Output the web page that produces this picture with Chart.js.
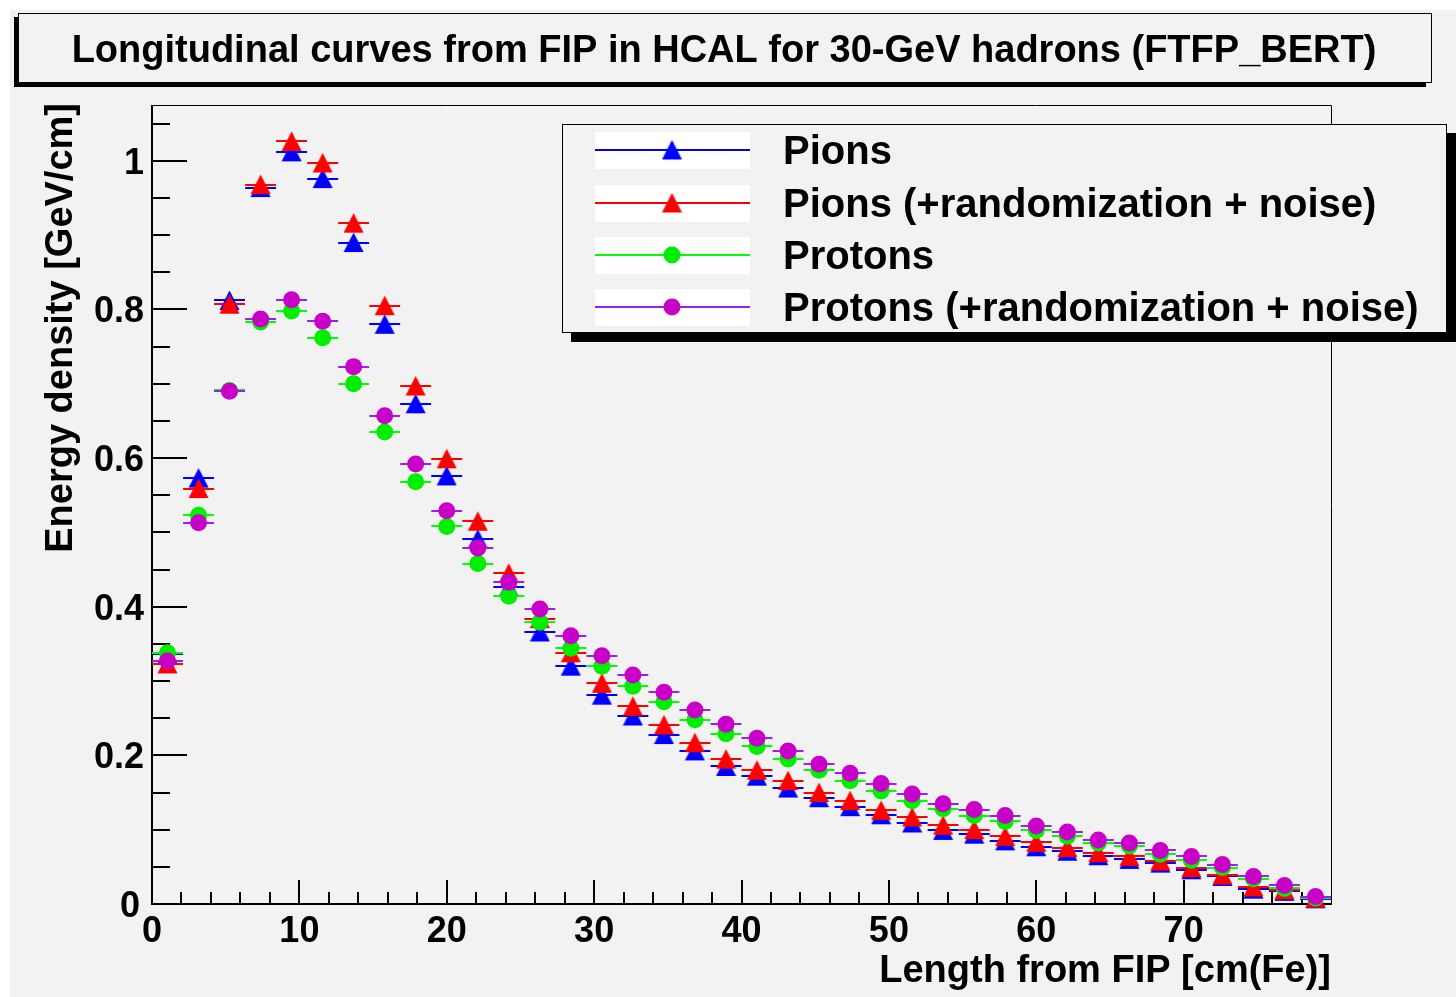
<!DOCTYPE html>
<html><head><meta charset="utf-8">
<script src="https://cdn.jsdelivr.net/npm/chart.js@4.4.1/dist/chart.umd.min.js"></script>
<style>html,body{margin:0;padding:0;background:#fff;overflow:hidden}#wrap{position:absolute;left:0;top:0;width:1456px;height:997px}</style>
</head><body><div id="wrap"><canvas id="c" width="1456" height="997"></canvas></div>
<script>
const titleText = "Longitudinal curves from FIP in HCAL for 30-GeV hadrons (FTFP_BERT)";
const xTitle = "Length from FIP [cm(Fe)]";
const yTitle = "Energy density [GeV/cm]";
const seriesLabels = ["Pions", "Pions (+randomization + noise)", "Protons", "Protons (+randomization + noise)"];

const binCenters = [1.05, 3.16, 5.26, 7.37, 9.47, 11.58, 13.68, 15.79, 17.89, 20.00,
  22.11, 24.21, 26.32, 28.42, 30.53, 32.63, 34.74, 36.84, 38.95, 41.05,
  43.16, 45.26, 47.37, 49.47, 51.58, 53.68, 55.79, 57.89, 60.00, 62.11,
  64.21, 66.32, 68.42, 70.53, 72.63, 74.74, 76.84, 78.95];
const binHalfWidth = 1.05;

const pions = [0.336, 0.573, 0.812, 0.964, 1.012, 0.976, 0.890, 0.780, 0.673, 0.576,
  0.491, 0.426, 0.366, 0.320, 0.281, 0.253, 0.228, 0.206, 0.185, 0.172,
  0.156, 0.143, 0.131, 0.120, 0.109, 0.099, 0.094, 0.085, 0.077, 0.071,
  0.065, 0.060, 0.055, 0.046, 0.037, 0.020, 0.017, 0.007];
const pionsRN = [0.323, 0.559, 0.807, 0.968, 1.026, 0.997, 0.916, 0.805, 0.697, 0.599,
  0.515, 0.445, 0.384, 0.338, 0.297, 0.266, 0.241, 0.217, 0.195, 0.180,
  0.166, 0.150, 0.139, 0.126, 0.117, 0.106, 0.100, 0.091, 0.083, 0.076,
  0.069, 0.064, 0.058, 0.049, 0.039, 0.023, 0.019, 0.008];
const protons = [0.338, 0.523, 0.691, 0.783, 0.798, 0.762, 0.700, 0.635, 0.568, 0.508,
  0.458, 0.414, 0.379, 0.344, 0.320, 0.293, 0.272, 0.248, 0.229, 0.212,
  0.195, 0.180, 0.166, 0.152, 0.139, 0.128, 0.119, 0.111, 0.099, 0.091,
  0.082, 0.078, 0.067, 0.059, 0.049, 0.034, 0.021, 0.008];
const protonsRN = [0.327, 0.513, 0.690, 0.787, 0.813, 0.784, 0.723, 0.657, 0.592, 0.529,
  0.479, 0.433, 0.397, 0.361, 0.334, 0.308, 0.285, 0.261, 0.242, 0.223,
  0.206, 0.188, 0.176, 0.162, 0.148, 0.135, 0.127, 0.119, 0.105, 0.097,
  0.086, 0.082, 0.072, 0.064, 0.053, 0.037, 0.025, 0.010];

const xTickValues = [0, 10, 20, 30, 40, 50, 60, 70];
const xTickLabels = ["0", "10", "20", "30", "40", "50", "60", "70"];
const yTickValues = [0, 0.2, 0.4, 0.6, 0.8, 1];
const yTickLabels = ["0", "0.2", "0.4", "0.6", "0.8", "1"];

const FONT = '"Liberation Sans", Arial, Helvetica, sans-serif';
const GRAY = '#f2f2f2';

function makeTriangle(color) {
  const c = document.createElement('canvas');
  c.width = 21; c.height = 21;
  const g = c.getContext('2d');
  g.fillStyle = color;
  g.beginPath();
  g.moveTo(10.5, 0.5); g.lineTo(20.5, 20); g.lineTo(0.5, 20); g.closePath();
  g.fill();
  return c;
}
const triBlue = makeTriangle('#0000ff');
const triRed = makeTriangle('#ff0000');

const styles = [
  {marker: triBlue, color: '#0000ff', bar: '#0000ff', circle: false},
  {marker: triRed, color: '#ff0000', bar: '#ff0000', circle: false},
  {marker: 'circle', color: '#00ee00', bar: '#00ff00', circle: true},
  {marker: 'circle', color: '#c800c8', bar: '#9a20f0', circle: true}
];
const seriesValues = [pions, pionsRN, protons, protonsRN];

const datasets = seriesValues.map((vals, i) => ({
  label: seriesLabels[i],
  data: binCenters.map((x, k) => ({x: x, y: vals[k]})),
  showLine: false,
  pointStyle: styles[i].marker,
  pointRadius: styles[i].circle ? 8.5 : 10,
  pointBackgroundColor: styles[i].color,
  pointBorderColor: styles[i].color,
  pointBorderWidth: 0,
  barColor: styles[i].bar,
  order: 4 - i,
  clip: false
}));

const rootPlugin = {
  id: 'rootStyle',
  beforeDraw(chart) {
    const ctx = chart.ctx;
    ctx.save();
    ctx.fillStyle = '#ffffff';
    ctx.fillRect(0, 0, chart.width, chart.height);
    ctx.fillStyle = GRAY;
    ctx.fillRect(10, 10, chart.width - 10, chart.height - 10);
    // title box with shadow (bottom-left)
    ctx.fillStyle = '#000';
    ctx.fillRect(14, 17, 4, 70);
    ctx.fillRect(14, 83, 1412, 4);
    ctx.fillStyle = GRAY;
    ctx.fillRect(18, 13, 1414, 70);
    ctx.strokeStyle = '#000'; ctx.lineWidth = 1;
    ctx.strokeRect(18.5, 13.5, 1413, 69);
    ctx.fillStyle = '#000';
    ctx.font = 'bold 38px ' + FONT;
    ctx.textAlign = 'center'; ctx.textBaseline = 'alphabetic';
    ctx.fillText(titleText, 724, 62);
    ctx.restore();
  },
  beforeDatasetsDraw(chart) {
    const ctx = chart.ctx;
    const xs = chart.scales.x, ys = chart.scales.y;
    const a = chart.chartArea;
    ctx.save();
    ctx.strokeStyle = '#000';
    // frame top/right
    ctx.lineWidth = 1;
    ctx.beginPath();
    ctx.moveTo(a.left, a.top + 0.5); ctx.lineTo(a.right + 0.5, a.top + 0.5);
    ctx.lineTo(a.right + 0.5, a.bottom);
    ctx.stroke();
    // axes
    ctx.lineWidth = 2;
    ctx.beginPath();
    ctx.moveTo(a.left, a.top); ctx.lineTo(a.left, a.bottom);
    ctx.lineTo(a.right + 1, a.bottom);
    ctx.stroke();
    // x ticks
    ctx.beginPath();
    for (let v = 0; v <= xs.max - 1; v += 2) {
      const px = Math.round(xs.getPixelForValue(v));
      const major = Math.abs(v % 10) < 1e-9;
      ctx.moveTo(px, a.bottom); ctx.lineTo(px, a.bottom - (major ? 24 : 12));
    }
    // y ticks
    for (let i = 0; i * 0.05 <= ys.max + 1e-9; i++) {
      const v = i * 0.05;
      const py = Math.round(ys.getPixelForValue(v));
      const major = i % 4 === 0;
      ctx.moveTo(a.left, py); ctx.lineTo(a.left + (major ? 35 : 18), py);
    }
    ctx.stroke();
    ctx.fillStyle = '#000';
    ctx.font = 'bold 36px ' + FONT;
    ctx.textAlign = 'center'; ctx.textBaseline = 'alphabetic';
    xTickValues.forEach((v, i) => {
      ctx.fillText(xTickLabels[i], xs.getPixelForValue(v), 942);
    });
    ctx.textAlign = 'right';
    yTickValues.forEach((v, i) => {
      const py = ys.getPixelForValue(v);
      ctx.fillText(yTickLabels[i], i === 0 ? 140 : 144, py + 13);
    });
    ctx.font = 'bold 38px ' + FONT;
    ctx.textAlign = 'right';
    ctx.fillText(xTitle, a.right, 982);
    ctx.save();
    ctx.translate(72, a.top - 2);
    ctx.rotate(-Math.PI / 2);
    ctx.textAlign = 'right';
    ctx.fillText(yTitle, 0, 0);
    ctx.restore();
    ctx.restore();
  },
  beforeDatasetDraw(chart, args) {
    const ds = chart.data.datasets[args.index];
    const xs = chart.scales.x, ys = chart.scales.y;
    const ctx = chart.ctx;
    ctx.save();
    ctx.strokeStyle = ds.barColor;
    ctx.lineWidth = 2;
    ctx.beginPath();
    ds.data.forEach(p => {
      const y = Math.round(ys.getPixelForValue(p.y));
      ctx.moveTo(xs.getPixelForValue(p.x - binHalfWidth), y);
      ctx.lineTo(xs.getPixelForValue(p.x + binHalfWidth), y);
    });
    ctx.stroke();
    ctx.restore();
  },
  afterDatasetsDraw(chart) {
    const ctx = chart.ctx;
    ctx.save();
    const L = 562, T = 124, R = 1447, B = 333;
    ctx.fillStyle = '#000';
    ctx.fillRect(R, T + 9, 9, B - T);
    ctx.fillRect(L + 9, B, R - L, 9);
    ctx.fillStyle = GRAY;
    ctx.fillRect(L, T, R - L, B - T);
    ctx.strokeStyle = '#000'; ctx.lineWidth = 1;
    ctx.strokeRect(L + 0.5, T + 0.5, R - L - 1, B - T - 1);
    const rows = [150, 203, 255, 307];
    chart.data.datasets.forEach((ds, i) => {
      const cy = rows[i];
      ctx.fillStyle = '#ffffff';
      ctx.fillRect(595, cy - 18, 155, 37);
      ctx.strokeStyle = ds.barColor; ctx.lineWidth = 2;
      ctx.beginPath(); ctx.moveTo(595, cy); ctx.lineTo(750, cy); ctx.stroke();
      const st = styles[i];
      if (st.circle) {
        ctx.fillStyle = ds.pointBackgroundColor;
        ctx.beginPath(); ctx.arc(672, cy, 8.5, 0, Math.PI * 2); ctx.fill();
      } else {
        ctx.drawImage(st.marker, 672 - 10.5, cy - 10.5);
      }
      ctx.fillStyle = '#000';
      ctx.font = 'bold 40px ' + FONT;
      ctx.textAlign = 'left'; ctx.textBaseline = 'alphabetic';
      ctx.fillText(ds.label, 783, cy + 14);
    });
    ctx.restore();
  }
};

new Chart(document.getElementById('c'), {
  type: 'scatter',
  data: {datasets: datasets},
  options: {
    responsive: false,
    animation: false,
    devicePixelRatio: 1,
    layout: {padding: {left: 152, top: 105, right: 125, bottom: 93}},
    plugins: {legend: {display: false}, tooltip: {enabled: false}},
    events: [],
    scales: {
      x: {type: 'linear', min: 0, max: 80, display: false},
      y: {type: 'linear', min: 0, max: 1.075, display: false}
    }
  },
  plugins: [rootPlugin]
});
</script></body></html>
